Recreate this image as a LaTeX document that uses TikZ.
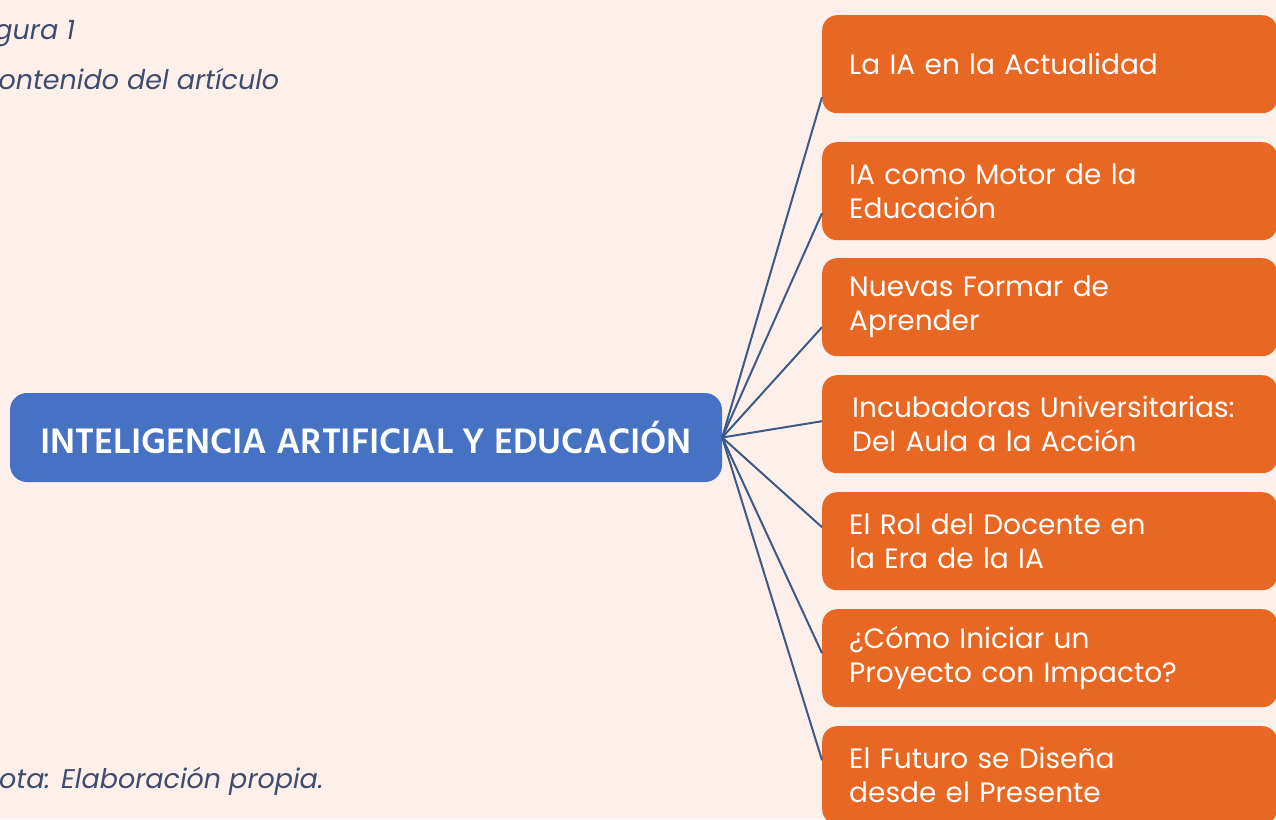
\documentclass[tikz,border=0pt]{standalone}
\usepackage{fontspec}
\setmainfont{Poppins}
\newfontfamily\titlefont{Hind Siliguri}
\newfontfamily\capfont{Poppins}
\definecolor{bgc}{HTML}{FDF0EB}
\definecolor{orangebox}{HTML}{E86722}
\definecolor{bluebox}{HTML}{4672C4}
\definecolor{linkc}{HTML}{3B5A86}
\definecolor{captc}{HTML}{3E4C6D}
\tikzset{
  obox/.style={fill=orangebox, rounded corners=15pt, anchor=north west,
    minimum height=98pt, text width=401pt, inner xsep=27pt, inner ysep=0pt,
    align=left, text=white, font=\fontsize{28}{34}\selectfont},
  tbox/.style={fill=bluebox, rounded corners=17pt, minimum width=712pt,
    minimum height=89pt, inner sep=0pt, text=white,
    font=\titlefont\bfseries\fontsize{36.3}{40}\selectfont},
  link/.style={draw=linkc, line width=2pt},
  capt/.style={anchor=base west, inner sep=0pt, text=captc,
    font=\capfont\itshape\fontsize{27}{30}\selectfont}
}
\begin{document}
\begin{tikzpicture}[x=1pt,y=-1pt]
\useasboundingbox (0,0) rectangle (1276,819);
\clip (0,0) rectangle (1276,819);
\fill[bgc] (0,0) rectangle (1276,819);

\node[capt] (fig) at (-26,39) {Figura 1};
\node[capt] (cont) at (-22.5,89) {Contenido del artículo};
\node[capt] (nota) at (-20,788) {Nota: Elaboración propia.};

\node[tbox] (c) at (366,437.5) {INTELIGENCIA ARTIFICIAL Y EDUCACIÓN};

\node[obox] (b1) at (822,15) {La IA en la Actualidad};
\node[obox] (b2) at (822,142) {IA como Motor de la\\Educación};
\node[obox] (b3) at (822,258) {Nuevas Formar de\\Aprender};
\node[obox] (b4) at (822,375) {\hspace*{3pt}Incubadoras Universitarias:\\\hspace*{3pt}Del Aula a la Acción};
\node[obox] (b5) at (822,492) {El Rol del Docente en\\la Era de la IA};
\node[obox] (b6) at (822,609) {¿Cómo Iniciar un\\Proyecto con Impacto?};
\node[obox] (b7) at (822,726) {El Futuro se Diseña\\desde el Presente};

\coordinate (e1) at ([yshift=-33pt]b1.west);
\coordinate (e2) at ([yshift=-22pt]b2.west);
\coordinate (e3) at ([yshift=-20pt]b3.west);
\coordinate (e4) at ([yshift=3pt]b4.west);
\coordinate (e5) at ([yshift=14pt]b5.west);
\coordinate (e6) at ([yshift=5pt]b6.west);
\coordinate (e7) at ([yshift=15pt]b7.west);

\foreach \e in {e1,e2,e3,e4,e5,e6,e7}{
  \draw[link] (c.east) -- (\e);
}
\end{tikzpicture}
\end{document}
